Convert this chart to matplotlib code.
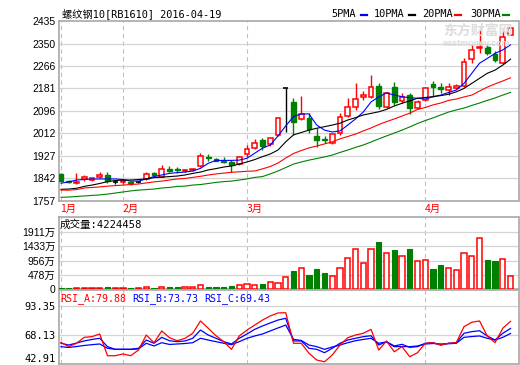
import matplotlib
matplotlib.use('Agg')
import matplotlib.pyplot as plt
from matplotlib.patches import Rectangle
from matplotlib.lines import Line2D
import matplotlib.transforms as mtrans

plt.rcParams['font.family'] = ['Liberation Sans', 'Noto Sans CJK SC']
MONO = ['DejaVu Sans Mono', 'Noto Sans CJK SC']

# daily candles (index 0 .. 58)
opens = [1859, 1832, 1824, 1839, 1837, 1849, 1855, 1827, 1827, 1829, 1830, 1839, 1861, 1849, 1876,
         1876, 1871, 1874, 1887, 1924, 1914, 1909, 1904, 1895, 1933, 1956, 1985, 1970, 2006, 2181,
         2131, 2066, 2069, 2003, 1991, 1974, 2012, 2078, 2112, 2150, 2150, 2191, 2112, 2185, 2134,
         2156, 2106, 2137, 2198, 2188, 2175, 2184, 2191, 2292, 2334, 2336, 2310, 2276, 2382]
highs = [1861, 1836, 1861, 1855, 1845, 1865, 1867, 1836, 1839, 1834, 1834, 1866, 1867, 1893, 1890,
         1885, 1878, 1881, 1937, 1934, 1918, 1924, 1911, 1928, 1968, 1989, 1994, 1999, 2075, 2181,
         2144, 2152, 2087, 2031, 2002, 2011, 2087, 2144, 2203, 2172, 2232, 2200, 2166, 2206, 2163,
         2163, 2137, 2188, 2209, 2200, 2200, 2196, 2294, 2345, 2401, 2345, 2322, 2401, 2407]
lows = [1833, 1824, 1820, 1834, 1834, 1843, 1824, 1821, 1820, 1817, 1824, 1836, 1849, 1846, 1866,
        1863, 1868, 1870, 1884, 1909, 1906, 1899, 1867, 1893, 1924, 1952, 1949, 1964, 2002, 2018,
        2006, 2062, 2012, 1959, 1977, 1972, 2006, 2075, 2100, 2137, 2144, 2102, 2108, 2119, 2125,
        2085, 2104, 2134, 2150, 2163, 2156, 2179, 2188, 2278, 2314, 2307, 2282, 2272, 2382]
closes = [1834, 1827, 1830, 1846, 1843, 1855, 1834, 1827, 1831, 1826, 1830, 1859, 1854, 1876, 1871,
          1872, 1875, 1878, 1925, 1919, 1909, 1904, 1894, 1924, 1953, 1977, 1966, 1993, 2069, 2181,
          2056, 2085, 2027, 1987, 1988, 2008, 2072, 2112, 2140, 2156, 2185, 2116, 2164, 2129, 2150,
          2108, 2130, 2184, 2188, 2179, 2188, 2190, 2281, 2326, 2337, 2313, 2288, 2374, 2407]

ma5 = [1824, 1829, 1836, 1838, 1840, 1840, 1840, 1840, 1838, 1832, 1832, 1840, 1849, 1855, 1861,
       1864, 1866, 1870, 1880, 1899, 1910, 1910, 1910, 1911, 1918, 1937, 1956, 1968, 2002, 2040,
       2075, 2085, 2085, 2043, 2024, 2017, 2021, 2043, 2066, 2092, 2130, 2149, 2164, 2156, 2150,
       2146, 2144, 2141, 2150, 2156, 2166, 2175, 2200, 2238, 2276, 2294, 2313, 2326, 2345]
ma10 = [1801, 1802, 1805, 1812, 1817, 1823, 1830, 1834, 1836, 1836, 1838, 1840, 1845, 1847, 1849,
        1851, 1855, 1861, 1866, 1874, 1879, 1885, 1889, 1896, 1904, 1913, 1924, 1934, 1949, 1980,
        2006, 2015, 2024, 2031, 2037, 2043, 2050, 2062, 2071, 2081, 2087, 2093, 2102, 2115, 2125,
        2134, 2144, 2147, 2150, 2154, 2159, 2168, 2181, 2200, 2219, 2238, 2250, 2269, 2291]
ma20 = [1798, 1798, 1800, 1806, 1808, 1810, 1813, 1815, 1817, 1819, 1821, 1825, 1829, 1832, 1836,
        1840, 1842, 1846, 1850, 1855, 1859, 1862, 1865, 1867, 1869, 1870, 1878, 1887, 1900, 1919,
        1936, 1947, 1957, 1964, 1972, 1980, 1991, 2000, 2009, 2021, 2032, 2045, 2056, 2066, 2077,
        2088, 2102, 2109, 2119, 2126, 2136, 2141, 2149, 2156, 2171, 2186, 2198, 2209, 2221]
ma30 = [1771, 1772, 1774, 1776, 1778, 1780, 1783, 1787, 1791, 1795, 1798, 1800, 1802, 1806, 1808,
        1812, 1813, 1817, 1819, 1823, 1827, 1830, 1832, 1836, 1840, 1846, 1849, 1859, 1870, 1883,
        1896, 1904, 1911, 1917, 1923, 1930, 1940, 1949, 1959, 1968, 1979, 1991, 2002, 2013, 2024,
        2036, 2049, 2060, 2070, 2081, 2092, 2100, 2107, 2117, 2126, 2136, 2145, 2156, 2166]

# volume in 万
volume = [22, 22, 22, 22, 22, 22, 56, 22, 22, 22, 22, 56, 22, 56, 56,
          56, 56, 79, 135, 79, 79, 79, 112, 146, 169, 146, 158, 248, 214, 416,
          596, 709, 484, 664, 551, 450, 720, 1058, 1361, 889, 1361, 1575, 1226, 1328, 1125,
          1361, 956, 990, 686, 821, 720, 653, 1226, 1125, 1699, 990, 956, 1024, 422]

rsi_a = [61.8, 58.1, 61.0, 66.1, 66.7, 69.0, 50.3, 50.3, 51.8, 50.3, 55.2, 68.1, 61.5, 71.6, 65.8,
         63.2, 65.3, 69.6, 80.2, 73.9, 67.5, 62.4, 55.8, 67.3, 72.4, 76.7, 81.0, 84.5, 87.1, 87.3,
         61.0, 61.0, 52.4, 46.6, 45.1, 50.9, 59.5, 65.8, 68.1, 69.6, 73.0, 55.2, 63.0, 53.7, 58.1,
         49.4, 52.9, 61.0, 61.5, 59.5, 61.0, 61.5, 75.3, 79.1, 80.2, 67.3, 61.5, 73.9, 79.88]
rsi_b = [61.0, 59.5, 61.2, 63.0, 64.3, 65.3, 58.1, 55.8, 55.8, 55.8, 56.7, 63.8, 61.0, 66.1, 63.2,
         62.4, 63.0, 65.3, 72.4, 68.1, 65.3, 62.4, 60.4, 65.3, 69.0, 73.0, 75.9, 78.5, 81.0, 82.5,
         63.0, 63.0, 56.7, 55.8, 52.9, 56.7, 61.0, 63.8, 65.3, 66.7, 67.5, 59.5, 62.4, 58.7, 60.1,
         57.5, 58.1, 61.0, 61.5, 59.5, 61.0, 61.5, 69.6, 71.0, 71.8, 67.3, 63.8, 69.6, 73.73]
rsi_c = [58.1, 57.4, 58.2, 59.1, 59.8, 60.4, 56.7, 55.8, 55.8, 55.8, 56.1, 61.0, 58.7, 61.5, 60.0,
         60.4, 60.8, 61.5, 65.3, 63.8, 62.4, 61.0, 59.8, 62.4, 65.3, 67.3, 69.0, 71.6, 74.2, 76.7,
         64.4, 63.4, 59.5, 58.1, 55.8, 57.8, 59.5, 61.5, 63.2, 64.3, 65.3, 61.0, 62.1, 58.1, 58.2,
         58.1, 58.7, 60.4, 60.8, 60.4, 60.6, 61.0, 66.1, 66.8, 67.3, 65.3, 63.8, 66.1, 69.43]

month_idx = [0, 8, 24, 47]
month_labels = ['1月', '2月', '3月', '4月']
price_ticks = [1757, 1842, 1927, 2012, 2096, 2181, 2266, 2350, 2435]
vol_ticks = [0, 478, 956, 1433, 1911]
vol_labels = ['0', '478万', '956万', '1433万', '1911万']
rsi_ticks = [42.91, 68.13, 93.35]
rsi_labels = ['42.91', '68.13', '93.35']

RED, GREEN, BLUE = '#ff0000', '#008000', '#0000ff'
GRID, SPINE = '#d4d4d4', '#a8a8a8'
W, H = 520, 365


def rect(x0, y0, x1, y1):
    return [x0 / W, 1 - y1 / H, (x1 - x0) / W, (y1 - y0) / H]


fig = plt.figure(figsize=(5.2, 3.65), dpi=100)
ax = fig.add_axes(rect(58.5, 21, 518.5, 201))
axv = fig.add_axes(rect(58.5, 217, 518.5, 289))
axr = fig.add_axes(rect(58.5, 290, 518.5, 364.3))

n = len(closes)
xs = list(range(n))
for a in (ax, axv, axr):
    a.set_xlim(-0.32, 59.03)
    a.set_xticks([])
    for s in a.spines.values():
        s.set_color(SPINE)
        s.set_linewidth(1.2)
    a.tick_params(axis='y', length=0, pad=2, labelsize=7.5)
    for m in month_idx:
        a.axvline(m, color='#c0c0c0', lw=0.8, ls=(0, (4, 3)), zorder=0)

# main price panel
ax.set_ylim(1757, 2435)
ax.set_yticks(price_ticks)
ax.set_yticklabels([str(t) for t in price_ticks])
for t in price_ticks[1:-1]:
    ax.axhline(t, color=GRID, lw=0.9, zorder=0)

bw = 0.62
for i in xs:
    o, h, l, c = opens[i], highs[i], lows[i], closes[i]
    if c > o:
        col = RED
        ax.vlines(i, l, h, color=col, lw=1, zorder=2)
        ax.add_patch(Rectangle((i - bw / 2, o), bw, c - o, facecolor='white',
                               edgecolor=col, lw=1.1, zorder=3))
    elif c < o:
        col = GREEN
        ax.vlines(i, l, h, color=col, lw=1, zorder=2)
        ax.add_patch(Rectangle((i - bw / 2, c), bw, o - c, facecolor=col,
                               edgecolor=col, lw=1, zorder=3))
    else:
        ax.vlines(i, l, h, color='black', lw=1, zorder=2)
        ax.hlines(c, i - bw / 2, i + bw / 2, color='black', lw=1.2, zorder=3)

ax.plot(xs, ma5, color=BLUE, lw=0.8, zorder=4)
ax.plot(xs, ma10, color='black', lw=0.8, zorder=4)
ax.plot(xs, ma20, color=RED, lw=0.8, zorder=4)
ax.plot(xs, ma30, color=GREEN, lw=0.8, zorder=4)

for m, lab in zip(month_idx, month_labels):
    ax.text(m - 0.1, -0.045, lab, transform=mtrans.blended_transform_factory(ax.transData, ax.transAxes),
            color=RED, fontsize=7.5, ha='left', va='center', family=['Noto Sans CJK SC'])

# title and legend
fig.text(62 / W, 1 - 14 / H, '螺纹钢10[RB1610] 2016-04-19', fontsize=7.4, family=MONO,
         ha='left', va='center')
legend = [('5PMA', BLUE, 331, 361), ('10PMA', 'black', 374, 409),
          ('20PMA', RED, 422, 455), ('30PMA', GREEN, 470, 503)]
for lab, col, tx, lx in legend:
    fig.text(tx / W, 1 - 14 / H, lab, fontsize=7.4, family=MONO, ha='left', va='center')
    fig.add_artist(Line2D([lx / W, (lx + 6) / W], [1 - 15 / H] * 2, color=col, lw=1.6))

# watermark
fig.text(478 / W, 1 - 31 / H, '东方财富网', fontsize=10, color='#dcdcdc', ha='center',
         va='center', weight='bold', family=['Noto Sans CJK SC'], zorder=1)
fig.text(476 / W, 1 - 43 / H, 'eastmoney.com', fontsize=6.5, color='#dcdcdc', ha='center',
         va='center', weight='bold', zorder=1)

# volume panel
axv.set_ylim(0, 2422)
axv.set_yticks(vol_ticks)
axv.set_yticklabels(vol_labels)
for t in vol_ticks[1:]:
    axv.axhline(t, color=GRID, lw=0.9, zorder=0)
vw = 0.7
for i in xs:
    if closes[i] >= opens[i]:
        axv.add_patch(Rectangle((i - vw / 2, 0), vw, volume[i], facecolor='white',
                                edgecolor=RED, lw=1.1, zorder=3))
    else:
        axv.add_patch(Rectangle((i - vw / 2, 0), vw, volume[i], facecolor=GREEN,
                                edgecolor=GREEN, lw=0.8, zorder=3))
axv.text(60 / W, 1 - 225 / H, '成交量:4224458', transform=fig.transFigure, fontsize=7.6,
         family=MONO, ha='left', va='center')

# RSI panel
axr.set_ylim(42.91, 106.86)
axr.set_yticks(rsi_ticks)
axr.set_yticklabels(rsi_labels, family=MONO)
for lbl in axr.get_yticklabels():
    if lbl.get_text() == '42.91':
        lbl.set_va('bottom')
axr.axhline(68.13, color=GRID, lw=0.9, zorder=0)
axr.axhline(93.35, color=GRID, lw=0.9, zorder=0)
axr.plot(xs, rsi_c, color=BLUE, lw=0.9)
axr.plot(xs, rsi_b, color=BLUE, lw=0.9)
axr.plot(xs, rsi_a, color=RED, lw=0.9)
rsi_text = [('RSI_A:79.88', RED, 60), ('RSI_B:73.73', BLUE, 132), ('RSI_C:69.43', BLUE, 204)]
for lab, col, tx in rsi_text:
    fig.text(tx / W, 1 - 299 / H, lab, fontsize=7.2, family=MONO, color=col, ha='left', va='center')

fig.savefig('out.png', dpi=100)
